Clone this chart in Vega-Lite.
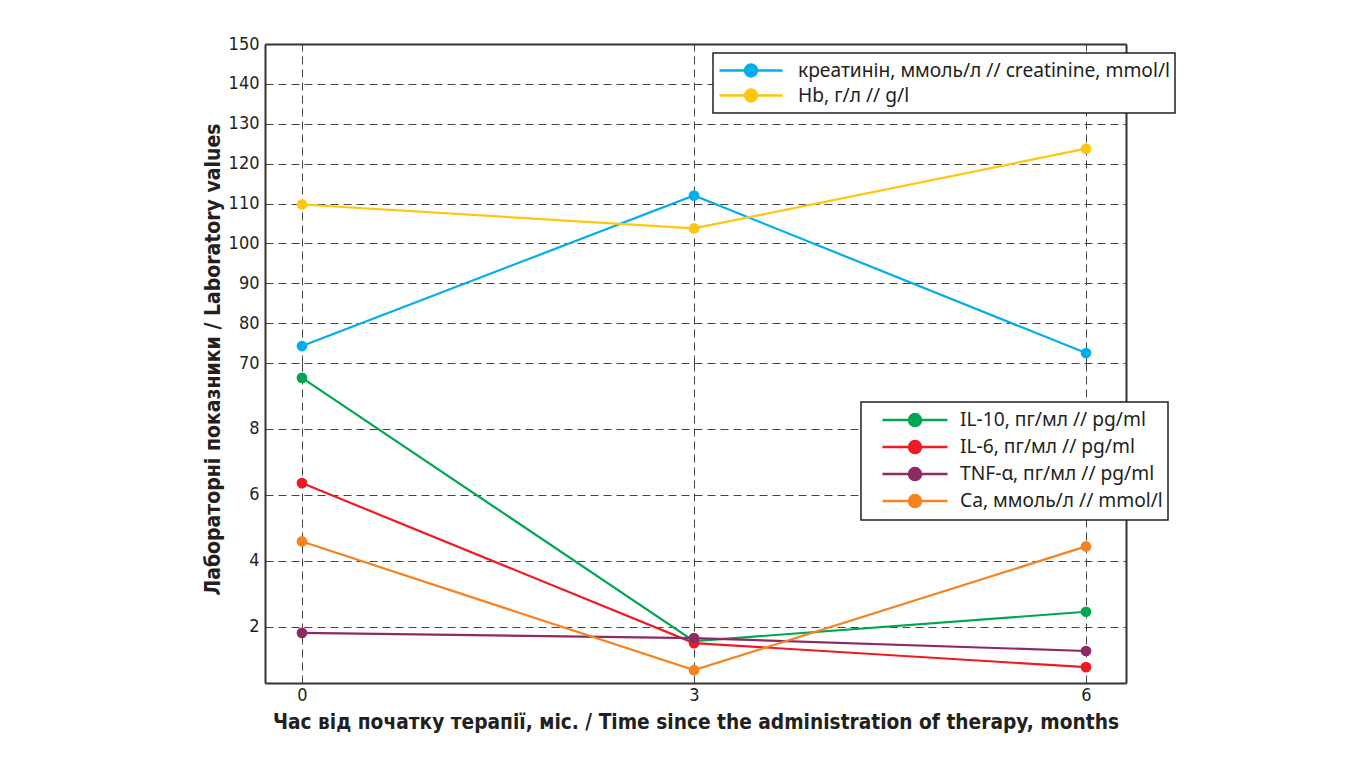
{
  "$schema": "https://vega.github.io/schema/vega-lite/v6.json",
  "background": "white",
  "padding": {"left": 202, "top": 35, "right": 5, "bottom": 5},
  "bounds": "flush",
  "spacing": 0,
  "datasets": {
    "upper": [
      {"series": "креатинін, ммоль/л // creatinine, mmol/l", "month": 0, "value": 74.25},
      {"series": "креатинін, ммоль/л // creatinine, mmol/l", "month": 3, "value": 112},
      {"series": "креатинін, ммоль/л // creatinine, mmol/l", "month": 6, "value": 72.5},
      {"series": "Hb, г/л // g/l", "month": 0, "value": 109.75},
      {"series": "Hb, г/л // g/l", "month": 3, "value": 103.75},
      {"series": "Hb, г/л // g/l", "month": 6, "value": 123.75}
    ],
    "lower": [
      {"series": "IL-10, пг/мл // pg/ml", "month": 0, "value": 9.55},
      {"series": "IL-10, пг/мл // pg/ml", "month": 3, "value": 1.57},
      {"series": "IL-10, пг/мл // pg/ml", "month": 6, "value": 2.46},
      {"series": "IL-6, пг/мл // pg/ml", "month": 0, "value": 6.36},
      {"series": "IL-6, пг/мл // pg/ml", "month": 3, "value": 1.51},
      {"series": "IL-6, пг/мл // pg/ml", "month": 6, "value": 0.78},
      {"series": "TNF-α, пг/мл // pg/ml", "month": 0, "value": 1.82},
      {"series": "TNF-α, пг/мл // pg/ml", "month": 3, "value": 1.66},
      {"series": "TNF-α, пг/мл // pg/ml", "month": 6, "value": 1.27},
      {"series": "Ca, ммоль/л // mmol/l", "month": 0, "value": 4.59},
      {"series": "Ca, ммоль/л // mmol/l", "month": 3, "value": 0.69},
      {"series": "Ca, ммоль/л // mmol/l", "month": 6, "value": 4.44}
    ]
  },
  "config": {
    "view": {"stroke": null},
    "axis": {
      "labelFont": "DejaVu Sans Condensed, Roboto",
      "labelFontSize": 18,
      "labelColor": "#231f20",
      "titleFont": "DejaVu Sans Condensed, Roboto",
      "titleFontWeight": "bold",
      "titleFontSize": 21,
      "titleColor": "#231f20",
      "domainColor": "#333333",
      "domainWidth": 2,
      "ticks": false,
      "gridColor": "#444444",
      "gridDash": [8, 5],
      "gridWidth": 1,
      "gridOpacity": 1
    },
    "legend": {
      "labelFont": "Noto Sans",
      "labelFontSize": 19.2,
      "labelColor": "#231f20",
      "symbolStrokeWidth": 2.5,
      "labelLimit": 600,
      "rowPadding": 0,
      "fillColor": "white",
      "strokeColor": "#222222",
      "strokeWidth": 1.5,
      "padding": 5,
      "orient": "none"
    }
  },
  "vconcat": [
    {
      "width": 861,
      "height": 319,
      "data": {"name": "upper"},
      "encoding": {
        "x": {
          "field": "month", "type": "quantitative",
          "scale": {"domain": [-0.283, 6.306], "nice": false, "zero": false},
          "axis": {"orient": "top", "values": [0, 3, 6], "labels": false, "title": null, "grid": true, "domain": true}
        },
        "color": {
          "field": "series", "type": "nominal",
          "scale": {"domain": ["креатинін, ммоль/л // creatinine, mmol/l", "Hb, г/л // g/l"], "range": ["#00aeef", "#ffc60b"]},
          "legend": {
            "title": null, "legendX": 448, "legendY": 9, "clipHeight": 25,
            "symbolType": "M-1,0H1M-0.19,0A0.19,0.19 0 1,1 0.19,0A0.19,0.19 0 1,1 -0.19,0Z",
            "symbolSize": 3969,
            "labelOffset": 14,
            "encode": {"symbols": {"update": {"fill": {"scale": "concat_0_color", "field": "value"}, "stroke": {"scale": "concat_0_color", "field": "value"}}}}
          }
        }
      },
      "layer": [
        {
          "mark": {"type": "line", "strokeWidth": 2.2},
          "encoding": {
            "y": {
              "field": "value", "type": "quantitative",
              "scale": {"domain": [70, 150], "nice": false, "zero": false},
              "axis": {
                "values": [70, 80, 90, 100, 110, 120, 130, 140, 150], "grid": true, "domain": true, "labelPadding": 6,
                "title": "Лабораторні показники / Laboratory values",
                "titleX": -52, "titleY": 315, "titleAlign": "center", "titleBaseline": "middle", "titleAngle": -90
              }
            }
          }
        },
        {
          "mark": {"type": "point", "filled": true, "size": 115, "opacity": 1},
          "encoding": {
            "y": {
              "field": "value", "type": "quantitative",
              "scale": {"domain": [70, 150], "nice": false, "zero": false},
              "axis": {"orient": "right", "labels": false, "grid": false, "title": null, "domain": true}
            }
          }
        }
      ],
      "resolve": {"axis": {"y": "independent"}}
    },
    {
      "width": 861,
      "height": 320,
      "data": {"name": "lower"},
      "encoding": {
        "x": {
          "field": "month", "type": "quantitative",
          "scale": {"domain": [-0.283, 6.306], "nice": false, "zero": false},
          "axis": {"orient": "bottom", "values": [0, 3, 6], "grid": true, "domain": true, "labelPadding": 3, "titlePadding": 8, "titleFontSize": 20.7,
                   "title": "Час від початку терапії, міс. / Time since the administration of therapy, months"}
        },
        "color": {
          "field": "series", "type": "nominal",
          "scale": {"domain": ["IL-10, пг/мл // pg/ml", "IL-6, пг/мл // pg/ml", "TNF-α, пг/мл // pg/ml", "Ca, ммоль/л // mmol/l"], "range": ["#00a651", "#ed1c24", "#8e2a63", "#f7821f"]},
          "legend": {
            "title": null, "legendX": 596, "legendY": 39, "clipHeight": 26.2,
            "symbolType": "M-0.625,0H1M0.0375,0A0.15,0.15 0 1,1 0.3375,0A0.15,0.15 0 1,1 0.0375,0Z",
            "symbolSize": 6400,
            "labelOffset": 11,
            "encode": {"symbols": {"update": {"fill": {"scale": "concat_1_color", "field": "value"}, "stroke": {"scale": "concat_1_color", "field": "value"}}}}
          }
        }
      },
      "layer": [
        {
          "mark": {"type": "line", "strokeWidth": 2.2},
          "encoding": {
            "y": {
              "field": "value", "type": "quantitative",
              "scale": {"domain": [0.3, 10], "nice": false, "zero": false},
              "axis": {"values": [2, 4, 6, 8], "grid": true, "domain": true, "labelPadding": 6, "title": null}
            }
          }
        },
        {
          "mark": {"type": "point", "filled": true, "size": 115, "opacity": 1},
          "encoding": {
            "y": {
              "field": "value", "type": "quantitative",
              "scale": {"domain": [0.3, 10], "nice": false, "zero": false},
              "axis": {"orient": "right", "labels": false, "grid": false, "title": null, "domain": true}
            }
          }
        }
      ],
      "resolve": {"axis": {"y": "independent"}}
    }
  ],
  "resolve": {"scale": {"color": "independent", "x": "independent", "y": "independent"}, "legend": {"color": "independent"}}
}
